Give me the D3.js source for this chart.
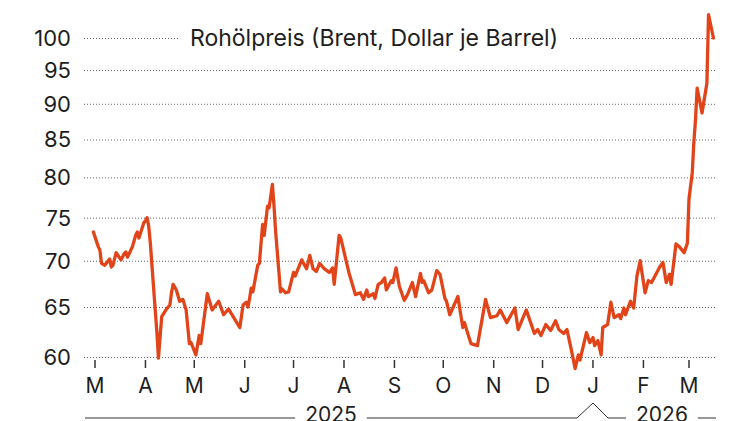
<!DOCTYPE html>
<html>
<head>
<meta charset="utf-8">
<script src="https://cdn.jsdelivr.net/npm/d3@7"></script>
<style>
  body { margin: 0; background: #fff; }
  svg text { font-family: Inter, "Noto Sans", sans-serif; fill: #1e1e1e; }
</style>
</head>
<body>
<svg id="chart" width="750" height="421"></svg>
<script>
const title = 'Rohölpreis (Brent, Dollar je Barrel)';
const yTicks = [60, 65, 70, 75, 80, 85, 90, 95, 100];
const monthLabels = ['M', 'A', 'M', 'J', 'J', 'A', 'S', 'O', 'N', 'D', 'J', 'F', 'M'];
const years = ['2025', '2026'];

const dates = [
  '2025-02-28','2025-03-03','2025-03-04','2025-03-05','2025-03-07','2025-03-10','2025-03-11','2025-03-12',
  '2025-03-14','2025-03-17','2025-03-19','2025-03-20','2025-03-21','2025-03-24','2025-03-26','2025-03-27',
  '2025-03-28','2025-03-31','2025-04-01','2025-04-02','2025-04-03','2025-04-04','2025-04-07','2025-04-08',
  '2025-04-09','2025-04-10','2025-04-11','2025-04-14','2025-04-15','2025-04-16','2025-04-17','2025-04-18',
  '2025-04-20','2025-04-22','2025-04-24','2025-04-26','2025-04-28','2025-04-29','2025-04-30','2025-05-02',
  '2025-05-04','2025-05-05','2025-05-09','2025-05-12','2025-05-16','2025-05-19','2025-05-22','2025-05-29',
  '2025-05-31','2025-06-02','2025-06-03','2025-06-04','2025-06-05','2025-06-06','2025-06-09','2025-06-10',
  '2025-06-12','2025-06-13','2025-06-15','2025-06-16','2025-06-18','2025-06-19','2025-06-20','2025-06-23',
  '2025-06-24','2025-06-26','2025-06-28','2025-07-01','2025-07-02','2025-07-06','2025-07-09','2025-07-11',
  '2025-07-13','2025-07-15','2025-07-17','2025-07-20','2025-07-23','2025-07-25','2025-07-26','2025-07-29',
  '2025-07-30','2025-08-04','2025-08-08','2025-08-11','2025-08-13','2025-08-15','2025-08-16','2025-08-19',
  '2025-08-20','2025-08-22','2025-08-24','2025-08-26','2025-08-27','2025-08-30','2025-08-31','2025-09-02',
  '2025-09-04','2025-09-07','2025-09-09','2025-09-12','2025-09-14','2025-09-17','2025-09-18','2025-09-19',
  '2025-09-22','2025-09-24','2025-09-27','2025-09-29','2025-10-02','2025-10-03','2025-10-05','2025-10-10',
  '2025-10-13','2025-10-14','2025-10-18','2025-10-22','2025-10-27','2025-10-30','2025-11-03','2025-11-05',
  '2025-11-09','2025-11-14','2025-11-16','2025-11-21','2025-11-26','2025-11-28','2025-11-30','2025-12-03',
  '2025-12-06','2025-12-09','2025-12-11','2025-12-14','2025-12-16','2025-12-18','2025-12-20','2025-12-21',
  '2025-12-23','2025-12-24','2025-12-28','2025-12-30','2026-01-01','2026-01-02','2026-01-04','2026-01-06',
  '2026-01-07','2026-01-10','2026-01-12','2026-01-14','2026-01-17','2026-01-18','2026-01-20','2026-01-21',
  '2026-01-24','2026-01-26','2026-01-28','2026-01-30','2026-02-02','2026-02-04','2026-02-06','2026-02-11',
  '2026-02-13','2026-02-15','2026-02-17','2026-02-18','2026-02-21','2026-02-23','2026-02-26','2026-02-28',
  '2026-03-01','2026-03-03','2026-03-04','2026-03-05','2026-03-06','2026-03-09','2026-03-12','2026-03-13',
  '2026-03-16'
];

const prices = [
  73.3, 71.6, 71.2, 69.7, 69.5, 70.2, 69.3, 69.5,
  70.9, 70.1, 70.8, 71.0, 70.4, 71.6, 72.9, 73.3,
  72.6, 74.4, 74.6, 75.0, 74.0, 72.0, 64.7, 62.5,
  59.9, 62.0, 64.0, 64.8, 65.0, 65.2, 66.5, 67.4,
  66.8, 65.6, 65.8, 64.7, 61.3, 61.4, 61.0, 60.2,
  62.1, 61.3, 66.4, 64.7, 65.6, 64.2, 64.8, 62.9,
  65.2, 65.5, 65.0, 65.9, 67.0, 66.6, 69.5, 69.7,
  74.2, 72.9, 76.4, 76.2, 79.1, 76.4, 73.3, 66.6,
  66.9, 66.5, 66.6, 68.7, 68.3, 70.1, 69.1, 70.6,
  69.1, 68.8, 69.7, 69.1, 68.7, 69.2, 67.4, 72.9,
  72.6, 68.7, 66.3, 66.5, 65.8, 66.8, 66.1, 66.4,
  65.9, 67.4, 67.6, 68.1, 66.8, 67.8, 67.6, 69.2,
  67.2, 65.7, 66.3, 67.6, 66.1, 68.6, 67.6, 67.8,
  66.5, 66.8, 68.9, 68.5, 65.9, 65.6, 64.2, 66.1,
  62.9, 63.4, 61.3, 61.1, 65.8, 63.9, 64.1, 64.7,
  63.4, 64.9, 62.7, 64.7, 62.3, 62.7, 62.1, 63.2,
  62.6, 63.6, 62.7, 62.3, 62.7, 61.2, 59.7, 58.9,
  60.2, 59.7, 62.4, 61.4, 61.9, 61.1, 61.6, 60.2,
  62.9, 63.2, 65.5, 63.9, 64.2, 63.8, 64.9, 64.2,
  65.6, 64.9, 68.3, 70.0, 66.5, 67.8, 67.6, 69.3,
  69.8, 67.6, 68.5, 67.4, 71.9, 71.6, 70.9, 72.0,
  77.3, 80.6, 84.7, 87.7, 92.3, 88.7, 93.0, 103.8,
  100.0
];

const parse = d3.timeParse('%Y-%m-%d');
const data = dates.map((d, i) => ({date: parse(d), value: prices[i]}));

const gridLeft = 84, gridRight = 716;

const x = d3.scaleTime()
  .domain([new Date(2025, 2, 1), new Date(2026, 2, 1)])
  .range([95, 689]);

const y = d3.scaleLog()
  .domain([60, 100])
  .range([357, 38]);

const svg = d3.select('#chart');

// dotted grid lines
svg.append('g')
  .selectAll('line')
  .data(yTicks)
  .enter().append('line')
  .attr('x1', gridLeft)
  .attr('x2', gridRight)
  .attr('y1', d => y(d) + 0.5)
  .attr('y2', d => y(d) + 0.5)
  .attr('stroke', '#666')
  .attr('stroke-width', 1)
  .attr('stroke-dasharray', '1,2');

// y labels
svg.append('g')
  .selectAll('text')
  .data(yTicks)
  .enter().append('text')
  .attr('x', 71)
  .attr('y', d => y(d))
  .attr('dy', '0.36em')
  .attr('text-anchor', 'end')
  .attr('font-size', 22)
  .text(d => d);

// title with white box over the top grid line
const titleG = svg.append('g');
const titleText = titleG.append('text')
  .attr('x', 374)
  .attr('y', y(100))
  .attr('dy', '0.36em')
  .attr('text-anchor', 'middle')
  .attr('font-size', 23)
  .text(title);
const tw = titleText.node().getComputedTextLength();
titleG.insert('rect', 'text')
  .attr('x', 374 - tw / 2 - 10)
  .attr('y', y(100) - 12)
  .attr('width', tw + 20)
  .attr('height', 24)
  .attr('fill', '#fff');

// month ticks
const months = d3.timeMonth.range(new Date(2025, 2, 1), new Date(2026, 2, 2));
svg.append('g')
  .selectAll('line')
  .data(months)
  .enter().append('line')
  .attr('x1', d => x(d))
  .attr('x2', d => x(d))
  .attr('y1', 360)
  .attr('y2', 368)
  .attr('stroke', '#333')
  .attr('stroke-width', 1.5);

svg.append('g')
  .selectAll('text')
  .data(months)
  .enter().append('text')
  .attr('x', d => x(d))
  .attr('y', 393)
  .attr('text-anchor', 'middle')
  .attr('font-size', 21)
  .text((d, i) => monthLabels[i]);

// price line
svg.append('path')
  .datum(data)
  .attr('fill', 'none')
  .attr('stroke', '#e2441a')
  .attr('stroke-width', 3.3)
  .attr('stroke-linejoin', 'round')
  .attr('stroke-linecap', 'round')
  .attr('d', d3.line().x(d => x(d.date)).y(d => y(d.value)));

// year bracket
const jan = x(new Date(2026, 0, 1));
const by = 418, gap = 10;
const yearSpans = [[85, jan - 16], [jan + 15, gridRight]];
const bracket = svg.append('g');
yearSpans.forEach((s, i) => {
  const cx = (s[0] + s[1]) / 2;
  const t = bracket.append('text')
    .attr('x', cx)
    .attr('y', 422)
    .attr('text-anchor', 'middle')
    .attr('font-size', 21)
    .text(years[i]);
  const w = t.node().getComputedTextLength();
  bracket.append('line')
    .attr('x1', s[0]).attr('x2', cx - w / 2 - gap)
    .attr('y1', by).attr('y2', by)
    .attr('stroke', '#333').attr('stroke-width', 1);
  bracket.append('line')
    .attr('x1', cx + w / 2 + gap).attr('x2', s[1])
    .attr('y1', by).attr('y2', by)
    .attr('stroke', '#333').attr('stroke-width', 1);
});
bracket.append('path')
  .attr('d', `M${jan - 16},${by} L${jan},${by - 15} L${jan + 15},${by}`)
  .attr('fill', 'none')
  .attr('stroke', '#333')
  .attr('stroke-width', 1);
</script>
</body>
</html>
